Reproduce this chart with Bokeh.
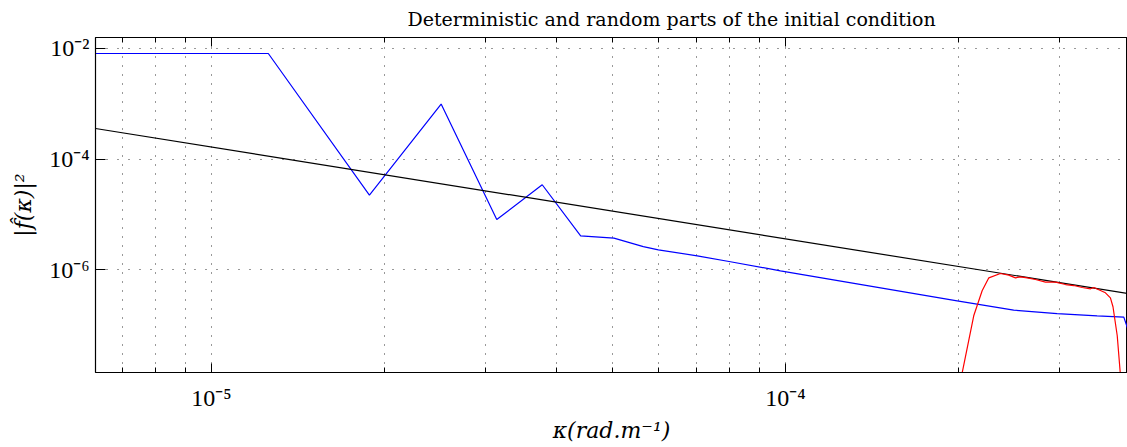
from bokeh.plotting import figure
from bokeh.models import FixedTicker, LogAxis, Range1d
from bokeh.embed import file_html
from bokeh.resources import INLINE

title_text = "Deterministic and random parts of the initial condition"
x_label = "κ(rad.m⁻¹)"
y_label = "|f̂(κ)|²"

# deterministic part of the spectrum (blue)
kappa_det = [6.2832e-6, 1.2566e-5, 1.8850e-5, 2.5133e-5, 3.1416e-5, 3.7699e-5,
             4.3982e-5, 5.0265e-5, 5.6549e-5, 6.007e-5, 7.02e-5, 8.02e-5, 9.8e-5,
             1.991e-4, 2.498e-4, 2.973e-4, 3.491e-4, 3.885e-4, 3.958e-4]
spec_det = [8.09e-3, 8.09e-3, 2.24e-5, 9.87e-4, 8.1e-6, 3.44e-5,
            4.11e-6, 3.74e-6, 2.62e-6, 2.30e-6, 1.79e-6, 1.40e-6, 9.6e-7,
            2.75e-7, 1.87e-7, 1.62e-7, 1.475e-7, 1.40e-7, 7.9e-8]

# reference spectrum (black)
kappa_ref = [6.2832e-6, 3.943e-4]
spec_ref = [3.57e-4, 3.73e-7]

# random part of the spectrum (red)
kappa_rand = [1.986e-4, 2.128e-4, 2.201e-4, 2.261e-4, 2.368e-4, 2.449e-4, 2.516e-4,
              2.567e-4, 2.637e-4, 2.726e-4, 2.838e-4, 2.954e-4, 3.075e-4, 3.179e-4,
              3.288e-4, 3.400e-4, 3.444e-4, 3.538e-4, 3.609e-4, 3.682e-4, 3.720e-4,
              3.784e-4, 3.865e-4]
spec_rand = [4.3e-9, 1.476e-7, 4.18e-7, 7.16e-7, 8.57e-7, 8.02e-7, 7.16e-7,
             7.48e-7, 7.16e-7, 6.68e-7, 6.00e-7, 6.00e-7, 5.42e-7, 5.20e-7,
             4.79e-7, 4.54e-7, 4.79e-7, 4.23e-7, 3.84e-7, 3.12e-7, 2.15e-7,
             6.43e-8, 4.3e-9]

x_ticks = [1e-5, 1e-4]
x_tick_labels = ["10⁻⁵", "10⁻⁴"]
x_minor = [7e-6, 8e-6, 9e-6, 2e-5, 3e-5, 4e-5, 5e-5, 6e-5, 7e-5, 8e-5, 9e-5, 2e-4, 3e-4]
y_ticks = [1e-2, 1e-4, 1e-6]
y_tick_labels = ["10⁻²", "10⁻⁴", "10⁻⁶"]

p = figure(
    width=1127, height=447,
    x_axis_type="log", y_axis_type="log",
    x_range=Range1d(6.2832e-6, 3.943e-4),
    y_range=Range1d(1.396e-8, 1.574e-2),
    min_border_left=95, min_border_right=0, min_border_top=37, min_border_bottom=75,
    toolbar_location=None,
    output_backend="svg")

p.title.text = title_text
p.title.text_font = "DejaVu Serif"
p.title.text_font_size = "19px"
p.title.text_font_style = "normal"
p.title.text_color = "black"
p.title.align = "left"
p.title.offset = 312
p.title.vertical_align = "top"
p.title.standoff = 12

p.outline_line_color = "black"
p.outline_line_width = 1
p.background_fill_color = "white"
p.border_fill_color = "white"

xt = FixedTicker(ticks=x_ticks, minor_ticks=x_minor)
yt = FixedTicker(ticks=y_ticks, minor_ticks=[])

p.xaxis.ticker = xt
p.yaxis.ticker = yt
p.xaxis.major_label_overrides = dict(zip(x_ticks, x_tick_labels))
p.yaxis.major_label_overrides = dict(zip(y_ticks, y_tick_labels))

for ax in (p.xaxis[0], p.yaxis[0]):
    ax.axis_line_color = "black"
    ax.axis_line_width = 1.2
    ax.major_tick_line_color = "black"
    ax.minor_tick_line_color = "black"
    ax.major_tick_out = 0
    ax.minor_tick_out = 0
    ax.major_label_text_font = "Liberation Serif"
    ax.major_label_text_font_size = "24px"
    ax.major_label_text_color = "black"
    ax.axis_label_text_font = "DejaVu Serif"
    ax.axis_label_text_font_style = "italic"
    ax.axis_label_text_font_size = "22px"
    ax.axis_label_text_color = "black"

p.xaxis.major_tick_in = 9
p.xaxis.minor_tick_in = 5
p.xaxis.major_label_standoff = 12
p.xaxis.axis_label = x_label
p.xaxis.axis_label_standoff = 4

p.yaxis.major_tick_in = 10
p.yaxis.minor_tick_in = 0
p.yaxis.major_label_standoff = 6
p.yaxis.axis_label = y_label
p.yaxis.axis_label_standoff = 10

top = LogAxis(ticker=xt, major_tick_in=9, major_tick_out=0, minor_tick_in=5, minor_tick_out=0,
              major_label_text_font_size="1px", major_label_text_color=None,
              major_label_standoff=0,
              axis_line_color="black", major_tick_line_color="black",
              minor_tick_line_color="black")
p.add_layout(top, "above")

p.xgrid.grid_line_color = "#333333"
p.xgrid.grid_line_dash = "1 8"
p.xgrid.minor_grid_line_color = "#333333"
p.xgrid.minor_grid_line_dash = "1 8"
p.ygrid.grid_line_color = "#333333"
p.ygrid.grid_line_dash = "1 10"

p.line(kappa_det, spec_det, line_color="#0000ff", line_width=1.2)
p.line(kappa_ref, spec_ref, line_color="black", line_width=1.2)
p.line(kappa_rand, spec_rand, line_color="#ff0000", line_width=1.2)

open("out.html", "w").write(file_html(p, INLINE))
